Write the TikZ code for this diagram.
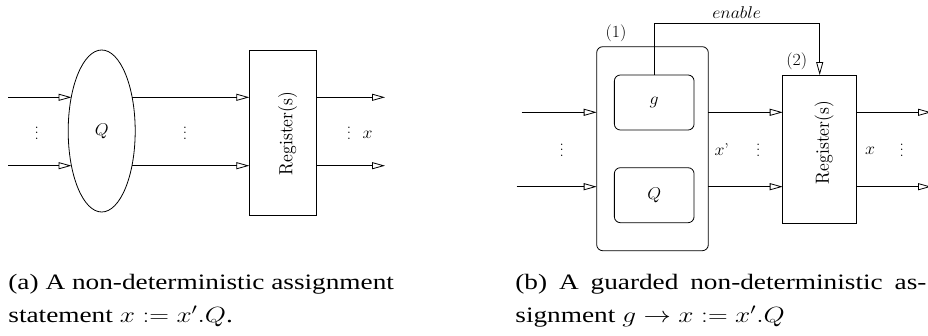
\RequirePackage{fix-cm}
\documentclass[tikz,border=0pt]{standalone}
\usepackage{fontspec}
\newfontfamily\capfont{Liberation Serif}
\usetikzlibrary{arrows.meta,shapes.geometric}
\newcommand{\sx}[1]{\scalebox{1.05}[1]{#1}}
\newcommand{\cx}[1]{\scalebox{1.24}[1]{#1}}
\newcommand{\vd}{\vbox{\baselineskip=5.6pt\lineskiplimit=-20pt\hbox{.}\hbox{.}\hbox{.}}}
\newcommand{\regtext}{\resizebox{19pt}{83pt}{\rotatebox{90}{Register(s)}}}
\begin{document}
\begin{tikzpicture}[x=1pt,y=-1pt, line width=0.8pt,
  arr/.style={-{Triangle[open,length=13pt,width=7pt]}},
  lbl/.style={inner sep=0, font=\fontsize{17}{20}\selectfont},
  box/.style={draw, inner sep=0, outer sep=0, font=\fontsize{17}{20}\selectfont},
  rbox/.style={box, rounded corners=6pt},
  captext/.style={inner sep=0, anchor=base west, font=\capfont\fontsize{22}{26}\selectfont}]
\useasboundingbox (0,0) rectangle (928,335);

% ---------- (a) ----------
\node[box, ellipse, minimum width=67pt, minimum height=162pt] (Qa) at (101.7,131) {\sx{$Q$}};
\node[box, minimum width=67.4pt, minimum height=165pt] (Ra) at (283,133.2) {};
\node[inner sep=0] (Rat) at (287.5,133.5) {\regtext};

\coordinate (ai1) at (8,97.3);
\coordinate (ai2) at (8,165.7);
\coordinate (at1) at (71.5,97.3);
\coordinate (at2) at (71.5,165.7);
\coordinate (am1) at (132,97.3);
\coordinate (am2) at (132,165.7);
\coordinate (ao1) at (385,97.3);
\coordinate (ao2) at (385,165.7);

\draw[arr] (ai1) -- (at1);
\draw[arr] (ai2) -- (at2);
\draw[arr] (am1) -- (am1 -| Ra.west);
\draw[arr] (am2) -- (am2 -| Ra.west);
\draw[arr] (Ra.east |- ao1) -- (ao1);
\draw[arr] (Ra.east |- ao2) -- (ao2);

\node[lbl] (ad1) at (36.7,133) {\vd};
\node[lbl] (ad2) at (185,133) {\vd};
\node[lbl] (ad3) at (349,133) {\vd};
\node[lbl] (ax) at (367.7,135) {\sx{$x$}};

% ---------- (b) ----------
\node[rbox, minimum width=111.6pt, minimum height=204pt] (Ob) at (652.5,148.7) {};
\node[rbox, minimum width=79.7pt, minimum height=55pt] (gb) at (654.2,102.5) {\sx{$g$}};
\node[rbox, minimum width=79.7pt, minimum height=55pt] (Qb) at (654.2,195.2) {\sx{$Q$}};
\node[box, minimum width=74pt, minimum height=148.3pt] (Rb) at (819.7,149.2) {};
\node[inner sep=0] (Rbt) at (824,142.5) {\regtext};

\node[lbl] (l1) at (616,33) {\sx{(1)}};
\node[lbl] (l2) at (796.7,61.7) {\sx{(2)}};

\coordinate (en) at (736.7,23.3);
\draw[arr] (gb.north) |- (en) -| (Rb.north);
\node[lbl] (enl) at (736.7,13) {\sx{$enable$}};

\coordinate (bi1) at (521.7,112.3);
\coordinate (bi2) at (516.7,186.7);
\coordinate (bo1) at (931,112.3);
\coordinate (bo2) at (931,186.7);
\draw[arr] (bi1) -- (bi1 -| Ob.west);
\draw[arr] (bi2) -- (bi2 -| Ob.west);
\draw[arr] (Ob.east |- bi1) -- (Rb.west |- bi1);
\draw[arr] (Ob.east |- bi2) -- (Rb.west |- bi2);
\draw[arr] (Rb.east |- bo1) -- (bo1);
\draw[arr] (Rb.east |- bo2) -- (bo2);

\node[lbl] (bd1) at (561.7,150) {\vd};
\node[lbl] (bd2) at (758.3,150) {\vd};
\node[lbl] (bd3) at (901.7,150) {\vd};
\node[lbl] (bxp) at (721.7,150) {\sx{$x$'}};
\node[lbl] (bx) at (870,151) {\sx{$x$}};

% ---------- captions ----------
\node[captext] (ca1) at (8,289) {\cx{(a) A non-deterministic assignment}};
\node[captext] (ca2) at (8,322) {\cx{statement $x := x'.Q$.}};
\node[captext] (cb1) at (515,289) {\cx{\hbox to 331.5pt{(b)\hfill A\hfill guarded\hfill non-deterministic\hfill as-}}};
\node[captext] (cb2) at (515,322) {\cx{signment $g \rightarrow x := x'.Q$}};
\end{tikzpicture}
\end{document}
